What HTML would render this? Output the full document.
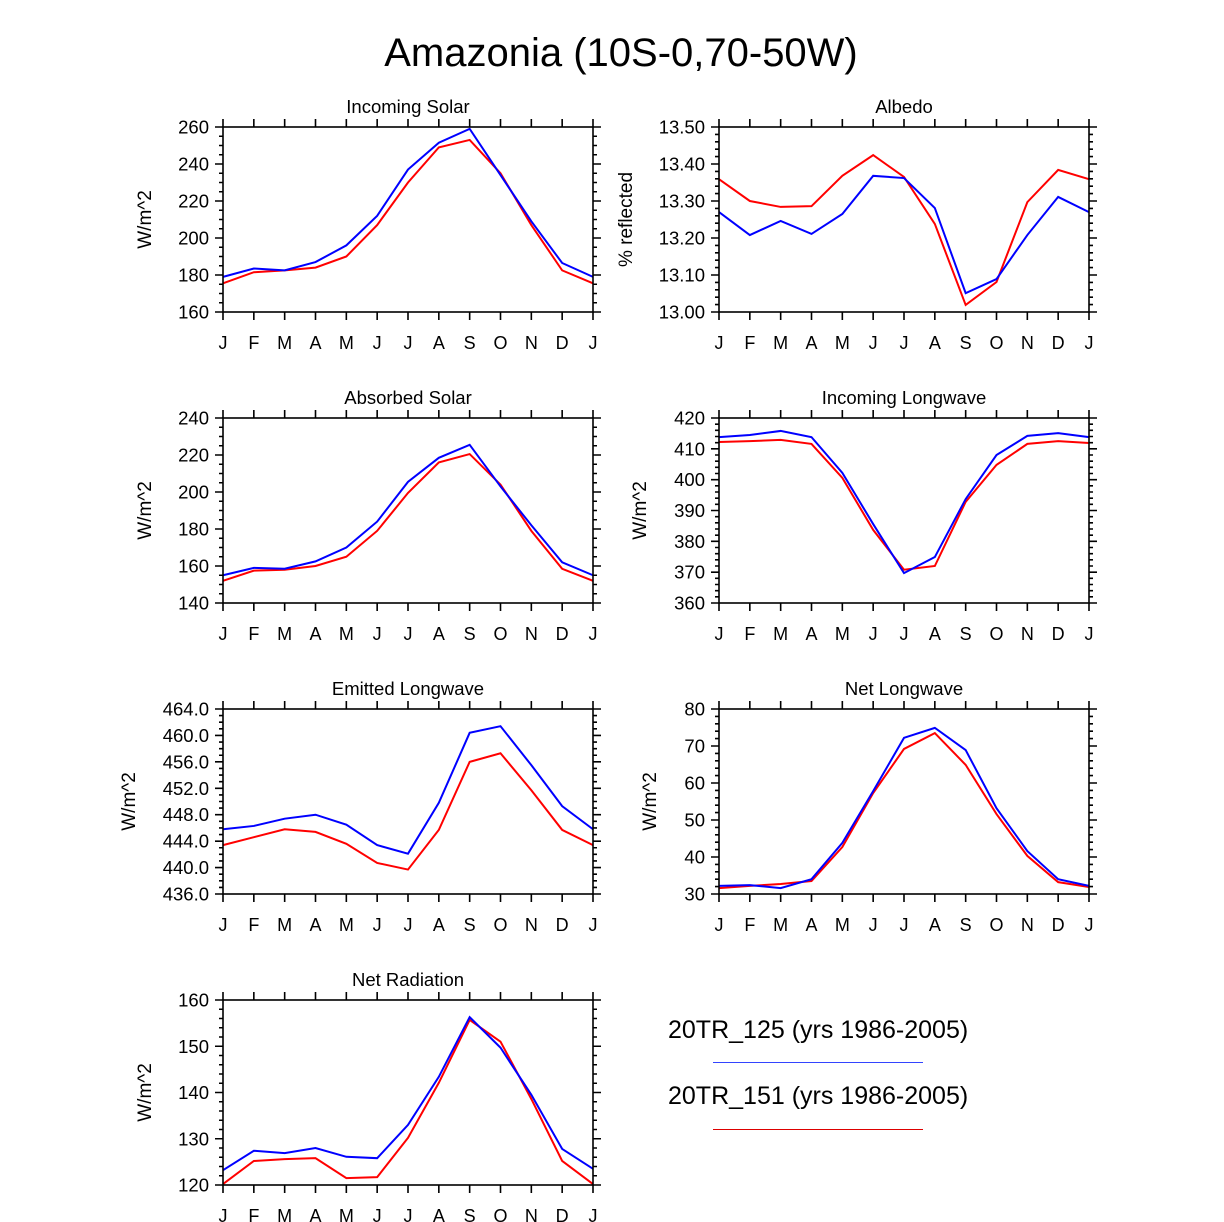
<!DOCTYPE html>
<html><head><meta charset="utf-8"><style>
body{margin:0;background:#fff}
svg{display:block;font-family:"Liberation Sans",sans-serif}
</style></head><body>
<svg id="fig" width="1224" height="1222" viewBox="0 0 1224 1222">
<text x="621" y="66" font-size="40" text-anchor="middle">Amazonia (10S-0,70-50W)</text>
<g id="panels"></g>
<g>
<text x="668" y="1038" font-size="25">20TR_125 (yrs 1986-2005)</text>
<line x1="713" y1="1062.5" x2="923" y2="1062.5" stroke="#3344ff" stroke-width="1"/>
<text x="668" y="1104" font-size="25">20TR_151 (yrs 1986-2005)</text>
<line x1="713" y1="1129.5" x2="923" y2="1129.5" stroke="#dd0000" stroke-width="1"/>
</g>
</svg>
<script>
const months = ["J","F","M","A","M","J","J","A","S","O","N","D","J"];
const solarBlue = [179,183.5,182.5,187,196,212,237,251.5,259,234,209,186.5,179];
const solarRed = [175.5,181.5,182.5,184,190,207,230,249,253,235,207,182.5,175.5];
const albedoBlue = [13.27,13.208,13.246,13.211,13.265,13.368,13.362,13.281,13.051,13.089,13.208,13.311,13.27];
const albedoRed = [13.359,13.3,13.284,13.286,13.368,13.424,13.365,13.238,13.019,13.081,13.297,13.384,13.359];
const absBlue = [155,159,158.5,162.5,170,184,205.5,218.5,225.5,203,182,162,155];
const absRed = [152,157.5,158,160,165,179,199.5,216,220.5,204,179,158.5,152];
const ilwBlue = [413.8,414.5,415.8,413.8,402.2,385.6,369.7,374.9,393.7,408,414.2,415.1,413.8];
const ilwRed = [412.2,412.5,412.9,411.6,400.6,383.7,370.8,372,392.8,404.8,411.6,412.5,411.9];
const elwBlue = [445.8,446.3,447.4,448,446.5,443.4,442.1,449.8,460.4,461.4,455.5,449.3,445.8];
const elwRed = [443.4,444.6,445.8,445.4,443.6,440.7,439.7,445.7,456,457.3,451.7,445.7,443.4];
const nlwBlue = [32.2,32.4,31.6,34,43.8,57.8,72.2,74.9,68.9,53.2,41.6,34,32.2];
const nlwRed = [31.6,32.2,32.7,33.5,42.7,57.3,69.2,73.5,64.9,51.6,40.3,33.2,31.9];
const nrBlue = [123.2,127.4,126.9,128,126.1,125.8,133,143.4,156.3,149.7,139.5,127.8,123.5];
const nrRed = [120.2,125.2,125.6,125.8,121.5,121.7,130.2,142.1,155.7,151,138.6,125.2,120.2];

const panels = [
 {name:"incoming-solar",title:"Incoming Solar",x:223,y:127,min:160,max:260,step:20,minor:5,dec:0,yt:"W/m^2",ytx:151,b:solarBlue,r:solarRed},
 {name:"albedo",title:"Albedo",x:719,y:127,min:13.0,max:13.5,step:0.1,minor:0.02,dec:2,yt:"% reflected",ytx:632,b:albedoBlue,r:albedoRed},
 {name:"absorbed-solar",title:"Absorbed Solar",x:223,y:418,min:140,max:240,step:20,minor:5,dec:0,yt:"W/m^2",ytx:151,b:absBlue,r:absRed},
 {name:"incoming-longwave",title:"Incoming Longwave",x:719,y:418,min:360,max:420,step:10,minor:2,dec:0,yt:"W/m^2",ytx:646,b:ilwBlue,r:ilwRed},
 {name:"emitted-longwave",title:"Emitted Longwave",x:223,y:709,min:436,max:464,step:4,minor:1,dec:1,yt:"W/m^2",ytx:135,b:elwBlue,r:elwRed},
 {name:"net-longwave",title:"Net Longwave",x:719,y:709,min:30,max:80,step:10,minor:2,dec:0,yt:"W/m^2",ytx:656,b:nlwBlue,r:nlwRed},
 {name:"net-radiation",title:"Net Radiation",x:223,y:1000,min:120,max:160,step:10,minor:2,dec:0,yt:"W/m^2",ytx:151,b:nrBlue,r:nrRed}
];
const NS="http://www.w3.org/2000/svg";
const W=370,H=185;
function mk(tag,attrs,parent){const e=document.createElementNS(NS,tag);for(const k in attrs)e.setAttribute(k,attrs[k]);parent.appendChild(e);return e;}
const root=document.getElementById('panels');
panels.forEach(p=>{
 const g=mk('g',{},root);
 
 
 const xs=i=>p.x+i*W/12;
 const ys=v=>p.y+H-(v-p.min)/(p.max-p.min)*H;
 let d="";
 for(let i=0;i<13;i++){const X=xs(i);d+=`M${X},${p.y}v-8M${X},${p.y+H}v8`;}
 const nMin=Math.round((p.max-p.min)/p.minor);
 for(let k=0;k<=nMin;k++){const v=p.min+k*p.minor;const Y=ys(v);
  const maj=Math.abs(Math.round((v-p.min)/p.step)*p.step-(v-p.min))<1e-6;
  const L=maj?8:4;d+=`M${p.x},${Y}h-${L}M${p.x+W},${Y}h${L}`;}
 const t=mk('path',{d:d,stroke:'#000','stroke-width':1.6,fill:'none'},g);
 
 
 const nMaj=Math.round((p.max-p.min)/p.step);
 for(let k=0;k<=nMaj;k++){const v=p.min+k*p.step;
  const tl=mk('text',{x:p.x-14,y:ys(v)+6.5,'font-size':18.5,'text-anchor':'end'},g);tl.textContent=v.toFixed(p.dec);
  
  }
 months.forEach((m,i)=>{const tl=mk('text',{x:xs(i),y:p.y+H+37,'font-size':18,'text-anchor':'middle'},g);tl.textContent=m;
  
  });
 const ti=mk('text',{x:p.x+W/2,y:p.y-14,'font-size':18.5,'text-anchor':'middle'},g);ti.textContent=p.title;
 
 
 const yt=mk('text',{x:p.ytx,y:p.y+H/2,'font-size':19,'text-anchor':'middle',transform:`rotate(-90 ${p.ytx} ${p.y+H/2})`},g);yt.textContent=p.yt;
 
 
 [[p.r,'#ff0000','red-series'],[p.b,'#0000ff','blue-series']].forEach(([arr,c,n])=>{
  const pl=mk('polyline',{points:arr.map((v,i)=>xs(i)+','+ys(v)).join(' '),fill:'none',stroke:c,'stroke-width':2},g);
  
  });
 const fr=mk('rect',{x:p.x,y:p.y,width:W,height:H,fill:'none',stroke:'#000','stroke-width':1.6},g);
 
 
});
</script>
</body></html>
